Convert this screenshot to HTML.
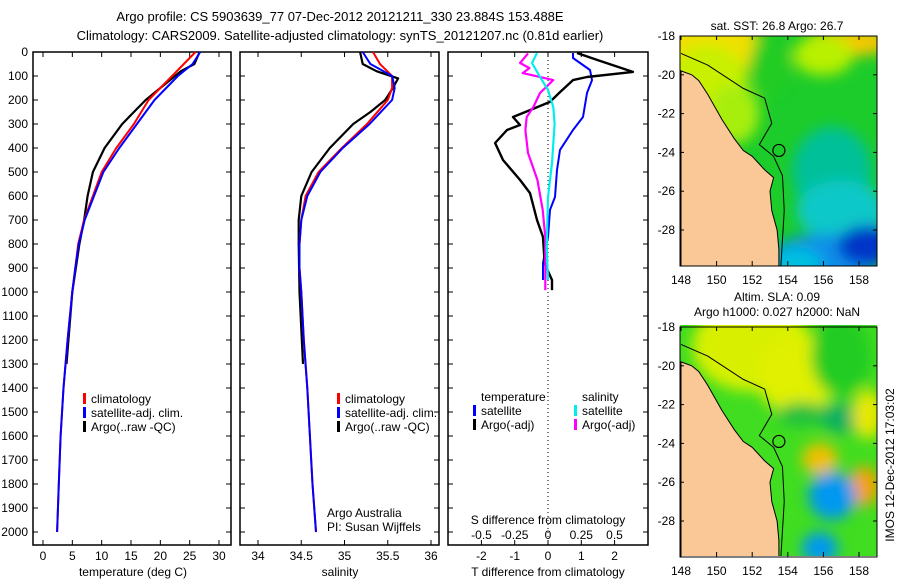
<!DOCTYPE html>
<html><head><meta charset="utf-8">
<style>
body{margin:0;background:#fff;}
svg{display:block;font-family:"Liberation Sans",sans-serif;}
text{font-size:12px;fill:#000;}
</style></head>
<body>
<svg id="chart" width="900" height="580" viewBox="0 0 900 580" xmlns="http://www.w3.org/2000/svg">
<defs>
<filter id="blur" x="-20%" y="-20%" width="140%" height="140%"><feGaussianBlur stdDeviation="7"/></filter>
<clipPath id="clipMap1"><rect x="680" y="36" width="197" height="230"/></clipPath>
<clipPath id="clipMap2"><rect x="680" y="325" width="197" height="231"/></clipPath>
</defs>
<text x="340" y="21" text-anchor="middle" style="font-size:13px">Argo profile: CS 5903639_77 07-Dec-2012 20121211_330 23.884S 153.488E</text>
<text x="340" y="40" text-anchor="middle" style="font-size:13px">Climatology: CARS2009. Satellite-adjusted climatology: synTS_20121207.nc (0.81d earlier)</text>
<g id="g1"></g>
<g id="g2"></g>
<g id="g3"></g>
<g id="m1"></g>
<g id="m2"></g>
<text x="777" y="30" text-anchor="middle">sat. SST: 26.8 Argo: 26.7</text>
<text x="777" y="301" text-anchor="middle">Altim. SLA: 0.09</text>
<text x="777" y="316" text-anchor="middle">Argo h1000: 0.027 h2000: NaN</text>
<text transform="translate(894,465) rotate(-90)" text-anchor="middle">IMOS 12-Dec-2012 17:03:02</text>
</svg>
<script>
// ---- data ----
const depthTicks=[0,100,200,300,400,500,600,700,800,900,1000,1100,1200,1300,1400,1500,1600,1700,1800,1900,2000];
const tempTicks=[0,5,10,15,20,25,30];
const salTicks=[34,34.5,35,35.5,36];
const dTTicks=[-2,-1,0,1,2];
const dSTicks=[-0.5,-0.25,0,0.25,0.5];
const climDepth=[0,50,100,150,200,300,400,500,600,700,800,900,1000,1200,1400,1600,1800,2000];
const tempClim=[26,24,22,20,18,15.5,12.5,10,8.5,7,6,5.5,5,4.2,3.5,3,2.7,2.4];
const tempSat=[26.8,25.5,23,21,19,16,13,10.3,8.7,7.1,6.1,5.5,5,4.2,3.5,3,2.7,2.4];
const salClim=[35.33,35.41,35.55,35.55,35.5,35.26,34.97,34.7,34.55,34.5,34.48,34.48,34.5,34.53,34.57,34.6,34.63,34.67];
const salSat=[35.21,35.3,35.55,35.58,35.55,35.29,34.98,34.72,34.57,34.5,34.48,34.48,34.5,34.53,34.57,34.6,34.63,34.67];
const argoDepth=[0,50,80,110,150,200,250,300,400,500,600,700,800,1000,1300];
const tempArgo=[26.7,25.8,23.5,22,20,17.5,15.5,13.5,10.5,8.5,7.6,7,6.2,5,4];
const salArgo=[35.18,35.21,35.37,35.62,35.56,35.47,35.3,35.1,34.83,34.62,34.5,34.47,34.47,34.48,34.52];
const dTArgoDepth=[4,33,83,104,117,167,208,242,271,304,325,379,450,533,588,700,771,883,950,992];
const dTArgo=[0.87,1.47,2.55,1.17,0.75,0.36,0.06,-0.54,-1.05,-0.84,-1.23,-1.59,-1.35,-0.84,-0.54,-0.33,-0.15,-0.1,0.12,0.12];
const dTSatDepth=[4,25,75,117,171,271,325,408,492,604,658,771,879,950];
const dTSat=[0.75,0.75,1.26,1.32,1.17,1.05,0.75,0.36,0.27,0.21,0.06,0,-0.15,-0.15];
const dSSatDepth=[4,46,104,158,229,300,463,604,813,950];
const dSSat=[-0.083,-0.12,-0.06,0,0.04,0.05,0.03,0,-0.01,0];
const dSArgoDepth=[6,46,67,88,117,171,229,271,325,421,533,658,771,992];
const dSArgo=[-0.15,-0.21,-0.14,-0.19,0.04,-0.06,-0.11,-0.16,-0.17,-0.15,-0.08,-0.04,-0.02,-0.02];
const mapLonTicks=[148,150,152,154,156,158];
const mapLatTicks=[-18,-20,-22,-24,-26,-28];
const coastLon=[148,148.6,149,149.5,150.3,151,151.5,152,152.7,153.2,153,153.1,153.4,153.5,153.5];
const coastLat=[-19.8,-20,-20.3,-21,-22.3,-23.3,-23.9,-24.2,-24.9,-25.3,-26,-27,-28,-29,-30];

const NS="http://www.w3.org/2000/svg";
function mk(parent,tag,attrs,txt){const e=document.createElementNS(NS,tag);for(const k in attrs)e.setAttribute(k,attrs[k]);if(txt!==undefined)e.textContent=txt;parent.appendChild(e);return e;}
const PT=52, PB=545;
const yD=d=>PT+d*0.24;
function frame(g,x0,x1,name){
  const r=mk(g,'rect',{x:x0,y:PT,width:x1-x0,height:PB-PT,fill:'none',stroke:'#000','stroke-width':1.5});
  
  
}
function line(g,xs,ds,xf,color,w,name){
  let p=xs.map((v,i)=>(i?'L':'M')+xf(v).toFixed(1)+','+yD(ds[i]).toFixed(1)).join('');
  const e=mk(g,'path',{d:p,fill:'none',stroke:color,'stroke-width':w,'stroke-linejoin':'round'});
  
  
}
function xticks(g,ticks,xf,y,lab){
  ticks.forEach(t=>{const x=xf(t);
    mk(g,'line',{x1:x,x2:x,y1:PB,y2:PB-5,stroke:'#000'});
    mk(g,'line',{x1:x,x2:x,y1:PT,y2:PT+5,stroke:'#000'});
    if(lab){const e=mk(g,'text',{x:x,y:y,'text-anchor':'middle'},String(t));
      
      }
  });
}
function legendEntry(g,x,y,color,label){
  mk(g,'rect',{x:x,y:y-10,width:3,height:11,fill:color});
  const e=mk(g,'text',{x:x+8,y:y},label);
  
  
}
// Panel 1 temperature
const g1=document.getElementById('g1');
const xT=v=>43+v*5.867;
frame(g1,33,231,'temperature-axes');
depthTicks.forEach(d=>{const y=yD(d);
  mk(g1,'line',{x1:33,x2:38,y1:y,y2:y,stroke:'#000'});
  mk(g1,'line',{x1:231,x2:226,y1:y,y2:y,stroke:'#000'});
  const e=mk(g1,'text',{x:28,y:y+4,'text-anchor':'end'},String(d));
  
  
});
xticks(g1,tempTicks,xT,560,true);
mk(g1,'text',{x:133,y:576,'text-anchor':'middle'},'temperature (deg C)');
line(g1,tempArgo,argoDepth,xT,'#000',2.2,'temp-argo-line');
line(g1,tempClim,climDepth,xT,'#f00',2,'temp-climatology-line');
line(g1,tempSat,climDepth,xT,'#00f',2,'temp-satellite-line');
legendEntry(g1,83,403,'#f00','climatology');
legendEntry(g1,83,417,'#00f','satellite-adj. clim.');
legendEntry(g1,83,431,'#000','Argo(..raw -QC)');
// Panel 2 salinity
const g2=document.getElementById('g2');
const xS=v=>258+(v-34)*86.5;
frame(g2,240,439,'salinity-axes');
depthTicks.forEach(d=>{const y=yD(d);
  mk(g2,'line',{x1:240,x2:245,y1:y,y2:y,stroke:'#000'});
  mk(g2,'line',{x1:439,x2:434,y1:y,y2:y,stroke:'#000'});});
xticks(g2,salTicks,xS,560,true);
mk(g2,'text',{x:340,y:576,'text-anchor':'middle'},'salinity');
line(g2,salArgo,argoDepth,xS,'#000',2.2,'sal-argo-line');
line(g2,salClim,climDepth,xS,'#f00',2,'sal-climatology-line');
line(g2,salSat,climDepth,xS,'#00f',2,'sal-satellite-line');
legendEntry(g2,337,403,'#f00','climatology');
legendEntry(g2,337,417,'#00f','satellite-adj. clim.');
legendEntry(g2,337,431,'#000','Argo(..raw -QC)');
mk(g2,'text',{x:327,y:517},'Argo Australia');
mk(g2,'text',{x:327,y:531},'PI: Susan Wijffels');
// Panel 3 differences
const g3=document.getElementById('g3');
const xdT=v=>548+v*33.3;
const xdS=v=>548+v*133;
frame(g3,448,648,'difference-axes');
depthTicks.forEach(d=>{const y=yD(d);
  mk(g3,'line',{x1:448,x2:453,y1:y,y2:y,stroke:'#000'});
  mk(g3,'line',{x1:648,x2:643,y1:y,y2:y,stroke:'#000'});});
xticks(g3,dTTicks,xdT,560,true);
mk(g3,'line',{x1:548,x2:548,y1:PT,y2:PB,stroke:'#000','stroke-dasharray':'1,3'});
dSTicks.forEach(t=>{const e=mk(g3,'text',{x:xdS(t),y:539,'text-anchor':'middle'},String(t));
  
  });
mk(g3,'text',{x:548,y:524,'text-anchor':'middle'},'S difference from climatology');
mk(g3,'text',{x:548,y:576,'text-anchor':'middle'},'T difference from climatology');
line(g3,dTSat,dTSatDepth,xdT,'#00f',2,'dT-satellite-line');
line(g3,dTArgo,dTArgoDepth,xdT,'#000',2.4,'dT-argo-line');
line(g3,dSArgo,dSArgoDepth,xdS,'#f0f',2.2,'dS-argo-line');
line(g3,dSSat,dSSatDepth,xdS,'#0ee',2.2,'dS-satellite-line');
mk(g3,'text',{x:481,y:401},'temperature');
mk(g3,'text',{x:582,y:401},'salinity');
legendEntry(g3,473,415,'#00f','satellite');
legendEntry(g3,473,429,'#000','Argo(-adj)');
legendEntry(g3,574,415,'#0ee','satellite');
legendEntry(g3,574,429,'#f0f','Argo(-adj)');
// Maps
function drawMap(gid,top,clip,bg,blobs){
  const g=document.getElementById(gid);
  const X=l=>681+(l-148)*17.8, Y=la=>top+(-18-la)*19.4;
  const inner=mk(g,'g',{'clip-path':'url(#'+clip+')'});
  mk(inner,'rect',{x:680,y:top-3,width:197,height:235,fill:bg});
  const bl=mk(inner,'g',{filter:'url(#blur)'});
  blobs.forEach(b=>mk(bl,'ellipse',{cx:X(b[0]),cy:Y(b[1]),rx:b[2],ry:b[3],fill:b[4]}));
  mk(inner,'path',{d:'M'+X(148)+','+Y(-18.9)+' L'+X(149.5)+','+Y(-19.5)+' L'+X(151.5)+','+Y(-20.7)+' L'+X(152.7)+','+Y(-21.2)+' L'+X(153.1)+','+Y(-22.5)+' L'+X(152.4)+','+Y(-23.6)+' L'+X(153.2)+','+Y(-24.2)+' L'+X(153.7)+','+Y(-25.2)+' L'+X(153.8)+','+Y(-27)+' L'+X(153.6)+','+Y(-30),fill:'none',stroke:'#000','stroke-width':1});
  let p=coastLon.map((l,i)=>(i?'L':'M')+X(l).toFixed(1)+','+Y(coastLat[i]).toFixed(1)).join('')+'L'+X(148)+','+Y(-30)+'Z';
  const land=mk(inner,'path',{d:p,fill:'#f9c896',stroke:'#000','stroke-width':1});
  
  
  mk(inner,'circle',{cx:X(153.5),cy:Y(-23.9),r:6,fill:'none',stroke:'#000','stroke-width':1.2});
  mk(g,'rect',{x:680,y:top,width:197,height:230,fill:'none',stroke:'#000'});
  mapLonTicks.forEach(l=>{mk(g,'line',{x1:X(l),x2:X(l),y1:top+230,y2:top+225,stroke:'#000'});
    mk(g,'line',{x1:X(l),x2:X(l),y1:top,y2:top+4,stroke:'#000'});
    const e=mk(g,'text',{x:X(l),y:top+248,'text-anchor':'middle'},String(l));
    
    });
  mapLatTicks.forEach(la=>{mk(g,'line',{x1:680,x2:684,y1:Y(la),y2:Y(la),stroke:'#000'});
    mk(g,'line',{x1:877,x2:873,y1:Y(la),y2:Y(la),stroke:'#000'});
    const e=mk(g,'text',{x:675,y:Y(la)+4,'text-anchor':'end'},String(la));
    
    });
}
drawMap('m1',36,'clipMap1','#1ccc2a',[
 [149,-18.5,60,40,'#f0e000'],[149.5,-20.5,40,40,'#c8f000'],[151,-22,25,30,'#a8ee10'],
 [157.5,-18.3,45,14,'#f8c800'],[156,-19,30,20,'#b8f000'],[153,-19.5,20,30,'#22cc22'],
 [156.5,-25,40,45,'#00c09a'],[157,-27,45,30,'#10c8c8'],[156,-29.5,55,25,'#0c8ee8'],[158.5,-28.8,30,20,'#0034c8'],[154.5,-29.7,25,15,'#00c0e0']]);
drawMap('m2',327,'clipMap2','#40dd20',[
 [152,-19,60,45,'#d8f000'],[154.5,-20.5,40,40,'#e0f000'],[157,-19.5,30,40,'#22cc22'],
 [155.8,-24.8,18,16,'#f0c000'],[158.3,-26.2,15,20,'#f8a000'],[156.5,-26.7,24,24,'#0098f0'],
 [155.8,-29.4,18,16,'#0098f0'],[154.8,-22.5,25,12,'#20c040'],[157,-22.7,20,15,'#10b060'],[158.5,-22.5,15,25,'#e8e800']]);
</script>
</body></html>
